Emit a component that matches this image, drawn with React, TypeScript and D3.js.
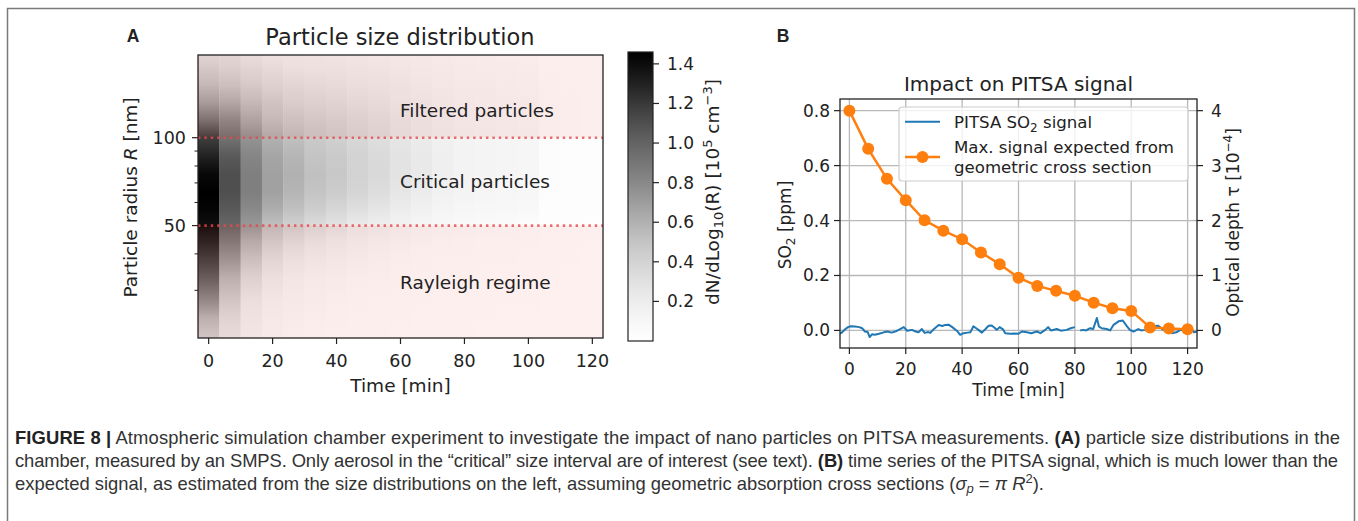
import React from 'react';
import * as d3 from 'd3';

// panel A: SMPS size distribution, rows = time steps, columns = radius nodes
const sizeTimes = [0, 6.67, 13.33, 20, 26.67, 33.33, 40, 46.67, 53.33, 60, 66.67, 73.33, 80, 86.67, 93.33, 100, 106.67, 113.33, 120];
const sizeRadii = [21, 24, 28, 33, 38, 44, 50, 57, 65, 75, 86, 100, 115, 132, 152, 175, 192];
const sizeDist = [
  [0.42, 0.55, 0.78, 1.0, 1.15, 1.28, 1.38, 1.44, 1.46, 1.42, 1.3, 1.17, 0.88, 0.66, 0.5, 0.38, 0.3],
  [0.24, 0.3, 0.42, 0.55, 0.7, 0.85, 0.98, 1.05, 1.1, 1.1, 1.05, 0.92, 0.78, 0.6, 0.45, 0.34, 0.28],
  [0.13, 0.16, 0.22, 0.32, 0.45, 0.58, 0.72, 0.8, 0.85, 0.85, 0.82, 0.75, 0.62, 0.5, 0.38, 0.28, 0.22],
  [0.08, 0.1, 0.13, 0.2, 0.28, 0.4, 0.52, 0.62, 0.68, 0.68, 0.66, 0.6, 0.5, 0.42, 0.32, 0.24, 0.18],
  [0.05, 0.07, 0.09, 0.13, 0.2, 0.3, 0.42, 0.52, 0.58, 0.6, 0.58, 0.52, 0.44, 0.36, 0.28, 0.2, 0.16],
  [0.04, 0.05, 0.07, 0.1, 0.15, 0.23, 0.34, 0.44, 0.5, 0.52, 0.5, 0.46, 0.4, 0.33, 0.26, 0.19, 0.15],
  [0.03, 0.04, 0.05, 0.08, 0.12, 0.18, 0.28, 0.38, 0.45, 0.47, 0.46, 0.42, 0.37, 0.3, 0.24, 0.18, 0.14],
  [0.02, 0.03, 0.04, 0.06, 0.09, 0.14, 0.22, 0.32, 0.39, 0.41, 0.4, 0.37, 0.33, 0.27, 0.22, 0.16, 0.13],
  [0.02, 0.02, 0.03, 0.05, 0.07, 0.11, 0.18, 0.27, 0.33, 0.36, 0.35, 0.32, 0.29, 0.24, 0.2, 0.15, 0.12],
  [0.01, 0.02, 0.02, 0.04, 0.05, 0.08, 0.14, 0.21, 0.26, 0.28, 0.28, 0.26, 0.24, 0.2, 0.17, 0.13, 0.1],
  [0.01, 0.01, 0.02, 0.03, 0.04, 0.06, 0.11, 0.17, 0.21, 0.23, 0.23, 0.22, 0.2, 0.17, 0.14, 0.11, 0.09],
  [0.01, 0.01, 0.01, 0.02, 0.03, 0.05, 0.08, 0.13, 0.16, 0.18, 0.18, 0.17, 0.16, 0.14, 0.12, 0.1, 0.08],
  [0.01, 0.01, 0.01, 0.02, 0.02, 0.04, 0.07, 0.11, 0.13, 0.14, 0.14, 0.14, 0.13, 0.12, 0.1, 0.08, 0.07],
  [0, 0.01, 0.01, 0.01, 0.02, 0.03, 0.06, 0.1, 0.12, 0.13, 0.13, 0.13, 0.12, 0.11, 0.09, 0.07, 0.06],
  [0, 0, 0.01, 0.01, 0.02, 0.03, 0.05, 0.09, 0.11, 0.12, 0.12, 0.12, 0.11, 0.1, 0.08, 0.07, 0.05],
  [0, 0, 0.01, 0.01, 0.01, 0.02, 0.04, 0.08, 0.1, 0.11, 0.11, 0.11, 0.1, 0.09, 0.07, 0.06, 0.05],
  [0, 0, 0, 0.01, 0.01, 0.01, 0.02, 0.03, 0.04, 0.04, 0.04, 0.05, 0.05, 0.05, 0.04, 0.03, 0.02],
  [0, 0, 0, 0, 0.01, 0.01, 0.02, 0.02, 0.03, 0.03, 0.03, 0.04, 0.04, 0.04, 0.03, 0.03, 0.02],
  [0, 0, 0, 0, 0, 0.01, 0.01, 0.02, 0.02, 0.03, 0.03, 0.03, 0.03, 0.03, 0.03, 0.02, 0.02],
];
const regionLabels = [
  { text: 'Filtered particles', r: 124 },
  { text: 'Critical particles', r: 71 },
  { text: 'Rayleigh regime', r: 32 },
];
const regionBounds = [50, 100];

// panel B
const expectedPpm = [0.8, 0.661, 0.552, 0.474, 0.401, 0.363, 0.332, 0.284, 0.241, 0.192, 0.162, 0.144, 0.126, 0.101, 0.081, 0.071, 0.011, 0.007, 0.004];
const pitsaTime = [-3.3, -2.5, -1.5, -0.5, 0.5, 2, 3.5, 4.5, 5.5, 6.5, 7.2, 8, 9, 10.5, 12.2, 13.5, 15, 16.5, 17.5, 19.3, 20.5, 21.5, 22.2, 23.5, 24.5, 25.7, 26.7, 28, 28.7, 30, 31.7, 33, 34, 35.2, 36.5, 38.2, 39.3, 40.5, 42, 42.9, 44, 45, 45.8, 47, 48.3, 49.4, 50.5, 51.5, 52.3, 53.3, 54.5, 55.3, 57.1, 58.5, 60, 61.2, 63, 64.5, 66.5, 67.8, 69.5, 70.5, 71.5, 73.6, 75, 77.1, 78.5, 80, 81, 81.9, 83, 84, 85.4, 86.5, 87.8, 88.5, 89.5, 91.3, 92.5, 93.7, 95.5, 97, 98.5, 99.5, 100.8, 102.5, 103.5, 104.9, 106.5, 107.5, 109.6, 111, 112.5, 114.4, 116, 117.5, 119, 121.4, 122.3, 123.3];
const pitsaPpm = [-0.012, -0.006, 0.004, 0.012, 0.015, 0.014, 0.012, 0.008, -0.004, -0.006, -0.024, -0.014, -0.016, -0.012, -0.007, -0.004, -0.008, -0.003, 0.002, 0.012, -0.001, 0.001, 0.002, -0.004, -0.007, 0.005, -0.009, -0.006, -0.009, 0.005, 0.02, 0.016, 0.02, 0.021, 0.012, -0.002, -0.016, -0.01, -0.008, -0.007, 0.015, 0.008, 0.002, -0.008, 0.005, 0.017, 0.018, 0.01, 0.002, 0.012, 0.004, -0.01, -0.012, -0.011, -0.012, -0.004, -0.007, -0.01, -0.004, -0.01, 0.002, 0.012, 0, 0.005, -0.001, 0.002, 0.008, 0.012, NaN, 0, 0.002, 0, 0.008, 0.005, 0.045, 0.015, 0.008, 0.005, 0, 0.02, 0.033, 0.036, 0.015, 0.002, -0.004, 0.005, 0, 0.002, 0.005, 0.015, 0.017, 0.005, -0.004, -0.01, -0.007, 0.002, 0, 0.005, -0.007, -0.004];

const timeTicks = [0, 20, 40, 60, 80, 100, 120];
const radiusTicks = [50, 100];
const radiusMinor = [30, 40, 60, 70, 80, 90];
const cbarTicks = [0.2, 0.4, 0.6, 0.8, 1.0, 1.2, 1.4];
const ppmTicks = [0, 0.2, 0.4, 0.6, 0.8];
const tauTicks = [0, 1, 2, 3, 4];

const font = "'DejaVu Sans', sans-serif";
const capFont = "'Liberation Sans', Arial, sans-serif";
const ink = '#222';

function PanelA() {
  const x = d3.scaleLinear().domain([-3.333, 123.333]).range([198, 603]);
  const y = d3.scaleLog().domain([20.6, 192]).range([338, 55]);
  const c = d3.scaleLinear().domain([0, 1.46]).range([341, 52]);
  const color = (v: number) => d3.interpolateGreys(Math.max(0, Math.min(1, v / 1.46)));
  const [x0, x1] = x.range();
  const [yb, yt] = y.range();
  const rDesc = sizeRadii.map((r, i) => ({ r, i })).reverse();
  const gTop = y(192), gBot = y(21);
  const cbStops = d3.range(0, 1.0001, 0.05);
  return (
    <g fontFamily={font} fill={ink}>
      <defs>
        {sizeTimes.map((t, j) => (
          <linearGradient key={j} id={`col${j}`} gradientUnits="userSpaceOnUse" x1={0} x2={0} y1={gTop} y2={gBot}>
            {rDesc.map(({ r, i }) => (
              <stop key={i} offset={(y(r) - gTop) / (gBot - gTop)} stopColor={color(sizeDist[j][i])} />
            ))}
          </linearGradient>
        ))}
        <linearGradient id="cbar" x1={0} x2={0} y1={1} y2={0}>
          {cbStops.map((s, i) => <stop key={i} offset={s} stopColor={d3.interpolateGreys(s)} />)}
        </linearGradient>
      </defs>
      <text x={133} y={41.5} fontFamily={capFont} fontWeight="bold" fontSize={17.5} textAnchor="middle">A</text>
      <text x={400} y={44.5} fontSize={22.5} textAnchor="middle">Particle size distribution</text>
      {sizeTimes.map((t, j) => (
        <rect key={j} x={x(t - 3.333)} y={yt} width={x(t + 3.333) - x(t - 3.333) + 0.3} height={yb - yt} fill={`url(#col${j})`} />
      ))}
      <rect x={x0} y={yt} width={x1 - x0} height={y(regionBounds[1]) - yt} fill="#ff0000" opacity={0.06} />
      <rect x={x0} y={y(regionBounds[0])} width={x1 - x0} height={yb - y(regionBounds[0])} fill="#ff0000" opacity={0.06} />
      {regionBounds.map(r => (
        <line key={r} x1={x0} x2={x1} y1={y(r)} y2={y(r)} stroke="#e8474a" strokeOpacity={0.8} strokeWidth={2.6} strokeDasharray="2.4 4" />
      ))}
      {regionLabels.map(l => (
        <text key={l.text} x={400} y={y(l.r) + 6.5} fontSize={18.5}>{l.text}</text>
      ))}
      <rect x={x0} y={yt} width={x1 - x0} height={yb - yt} fill="none" stroke={ink} strokeWidth={1.3} />
      {timeTicks.map(t => (
        <g key={t}>
          <line x1={x(t)} x2={x(t)} y1={yb} y2={yb + 6} stroke={ink} strokeWidth={1.2} />
          <text x={x(t)} y={366.5} fontSize={17.5} textAnchor="middle">{t}</text>
        </g>
      ))}
      <text x={(x0 + x1) / 2} y={391.5} fontSize={18.5} textAnchor="middle">Time [min]</text>
      {radiusTicks.map(r => (
        <g key={r}>
          <line x1={x0 - 6} x2={x0} y1={y(r)} y2={y(r)} stroke={ink} strokeWidth={1.2} />
          <text x={186} y={y(r) + 6.4} fontSize={17.5} textAnchor="end">{r}</text>
        </g>
      ))}
      {radiusMinor.map(r => (
        <line key={r} x1={x0 - 3.5} x2={x0} y1={y(r)} y2={y(r)} stroke={ink} strokeWidth={1} />
      ))}
      <text transform="translate(136.5,197.5) rotate(-90)" fontSize={18.5} textAnchor="middle">
        Particle radius <tspan fontStyle="italic">R</tspan> [nm]
      </text>
      <rect x={628} y={c(1.46)} width={25} height={c(0) - c(1.46)} fill="url(#cbar)" stroke={ink} strokeWidth={1.2} />
      {cbarTicks.map(v => (
        <g key={v}>
          <line x1={653} x2={659} y1={c(v)} y2={c(v)} stroke={ink} strokeWidth={1.2} />
          <text x={667} y={c(v) + 6} fontSize={17}>{v.toFixed(1)}</text>
        </g>
      ))}
      <text transform="translate(719,192) rotate(-90)" fontSize={18.5} textAnchor="middle">
        dN/dLog<tspan fontSize={13} dy={4}>10</tspan><tspan dy={-4}>(R) [10</tspan>
        <tspan fontSize={13} dy={-7}>5</tspan><tspan dy={7}> cm</tspan>
        <tspan fontSize={13} dy={-7}>−3</tspan><tspan dy={7}>]</tspan>
      </text>
    </g>
  );
}

function PanelB() {
  const x = d3.scaleLinear().domain([-3.333, 123.333]).range([840, 1197]);
  const y = d3.scaleLinear().domain([-0.064, 0.8425]).range([348, 99]);
  const yTau = d3.scaleLinear().domain([-0.32, 4.2125]).range([348, 99]);
  const [x0, x1] = x.range();
  const [yb, yt] = y.range();
  const blue = d3.line<number>()
    .defined((_, i) => !isNaN(pitsaPpm[i]))
    .x((_, i) => x(pitsaTime[i]))
    .y(d => y(d));
  const orange = d3.line<number>()
    .x((_, i) => x(sizeTimes[i]))
    .y(d => y(d));
  return (
    <g fontFamily={font} fill={ink}>
      <defs>
        <clipPath id="clipB"><rect x={x0} y={yt} width={x1 - x0} height={yb - yt} /></clipPath>
      </defs>
      <text x={783} y={41.5} fontFamily={capFont} fontWeight="bold" fontSize={17.5} textAnchor="middle">B</text>
      <text x={(x0 + x1) / 2} y={91} fontSize={20} textAnchor="middle">Impact on PITSA signal</text>
      {timeTicks.map(t => (
        <line key={t} x1={x(t)} x2={x(t)} y1={yt} y2={yb} stroke="#b8b8b8" strokeWidth={1.3} />
      ))}
      {ppmTicks.map(v => (
        <line key={v} x1={x0} x2={x1} y1={y(v)} y2={y(v)} stroke="#b8b8b8" strokeWidth={1.3} />
      ))}
      <g clipPath="url(#clipB)">
        <path d={blue(pitsaPpm) || ''} fill="none" stroke="#1f77b4" strokeWidth={2} strokeLinejoin="round" />
        <path d={orange(expectedPpm) || ''} fill="none" stroke="#ff7f0e" strokeWidth={2.5} />
        {expectedPpm.map((v, i) => (
          <circle key={i} cx={x(sizeTimes[i])} cy={y(v)} r={6} fill="#ff7f0e" />
        ))}
      </g>
      <rect x={x0} y={yt} width={x1 - x0} height={yb - yt} fill="none" stroke={ink} strokeWidth={1.3} />
      {timeTicks.map(t => (
        <g key={t}>
          <line x1={x(t)} x2={x(t)} y1={yb} y2={yb + 6} stroke={ink} strokeWidth={1.2} />
          <text x={x(t)} y={374.5} fontSize={17} textAnchor="middle">{t}</text>
        </g>
      ))}
      <text x={(x0 + x1) / 2} y={396} fontSize={17} textAnchor="middle">Time [min]</text>
      {ppmTicks.map(v => (
        <g key={v}>
          <line x1={x0 - 6} x2={x0} y1={y(v)} y2={y(v)} stroke={ink} strokeWidth={1.2} />
          <text x={830} y={y(v) + 6} fontSize={17} textAnchor="end">{v.toFixed(1)}</text>
        </g>
      ))}
      {tauTicks.map(v => (
        <g key={v}>
          <line x1={x1} x2={x1 + 6} y1={yTau(v)} y2={yTau(v)} stroke={ink} strokeWidth={1.2} />
          <text x={1211} y={yTau(v) + 6} fontSize={17}>{v}</text>
        </g>
      ))}
      <text transform="translate(791,225) rotate(-90)" fontSize={17} textAnchor="middle">
        SO<tspan fontSize={12} dy={4}>2</tspan><tspan dy={-4}> [ppm]</tspan>
      </text>
      <text transform="translate(1239,222.5) rotate(-90)" fontSize={17} textAnchor="middle">
        Optical depth τ [10<tspan fontSize={12} dy={-7}>−4</tspan><tspan dy={7}>]</tspan>
      </text>
      <g>
        <rect x={899} y={107} width={289} height={74} rx={3} fill="#fff" fillOpacity={0.8} stroke="#cccccc" strokeWidth={1.2} />
        <line x1={905} x2={940} y1={121.7} y2={121.7} stroke="#1f77b4" strokeWidth={2} />
        <text x={954} y={127.7} fontSize={16.6}>
          PITSA SO<tspan fontSize={12} dy={4}>2</tspan><tspan dy={-4}> signal</tspan>
        </text>
        <line x1={905} x2={940} y1={157} y2={157} stroke="#ff7f0e" strokeWidth={2.5} />
        <circle cx={922.5} cy={157} r={6} fill="#ff7f0e" />
        <text x={954} y={152.7} fontSize={16.6}>Max. signal expected from</text>
        <text x={954} y={172.7} fontSize={16.6}>geometric cross section</text>
      </g>
    </g>
  );
}

function Caption() {
  const fs = 18.4;
  return (
    <g fontFamily={capFont} fontSize={fs} fill="#333">
      <text x={15} y={443.5} textLength={1325} lengthAdjust="spacing">
        <tspan fontWeight="bold" fill="#222">FIGURE 8 |</tspan> Atmospheric simulation chamber experiment to investigate the impact of nano particles on PITSA measurements. <tspan fontWeight="bold" fill="#222">(A)</tspan> particle size distributions in the
      </text>
      <text x={15} y={466.5} textLength={1323} lengthAdjust="spacing">
        chamber, measured by an SMPS. Only aerosol in the “critical” size interval are of interest (see text). <tspan fontWeight="bold" fill="#222">(B)</tspan> time series of the PITSA signal, which is much lower than the
      </text>
      <text x={15} y={489.5}>
        expected signal, as estimated from the size distributions on the left, assuming geometric absorption cross sections (<tspan fontStyle="italic">σ</tspan><tspan fontStyle="italic" fontSize={13} dy={3.5}>p</tspan><tspan dy={-3.5}> = </tspan><tspan fontStyle="italic">π R</tspan><tspan fontSize={13} dy={-7}>2</tspan><tspan dy={7}>).</tspan>
      </text>
    </g>
  );
}

export default function App() {
  return (
    <svg width={1358} height={521} style={{ position: 'absolute', left: 0, top: 0, background: '#fff' }}>
      <rect width={1358} height={521} fill="#fff" />
      <path d="M7.5,521 V8.5 H1354.5 V521" fill="none" stroke="#7a7a7a" strokeWidth={1.5} />
      <PanelA />
      <PanelB />
      <Caption />
    </svg>
  );
}
